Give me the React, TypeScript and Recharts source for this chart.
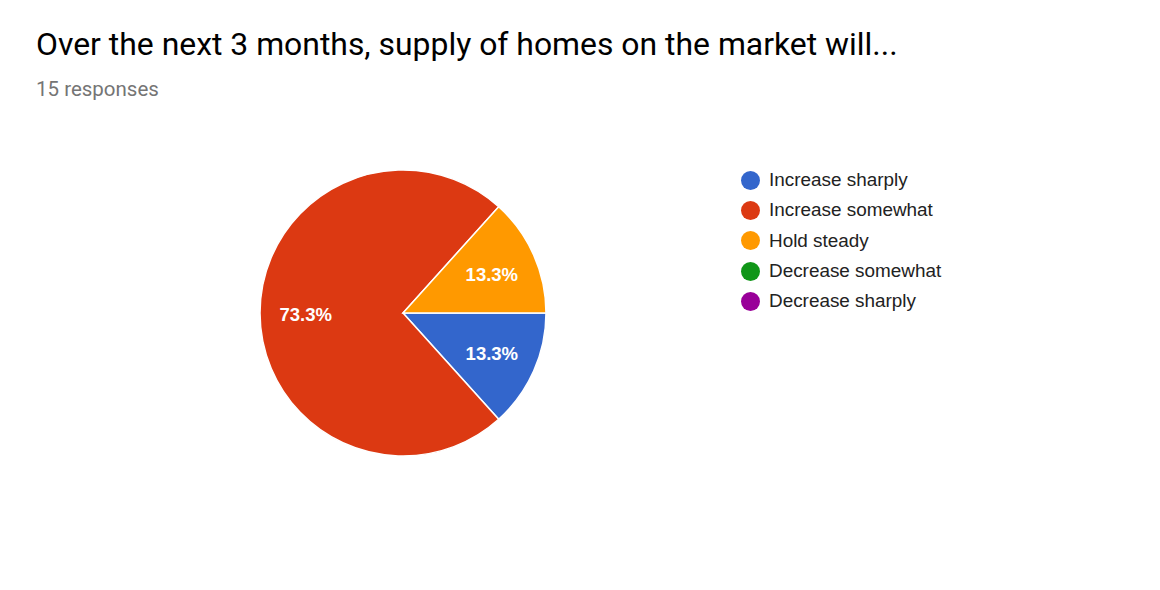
import React from "react";
import { PieChart, Pie, Cell } from "recharts";

const answers = [
  "Increase sharply",
  "Increase somewhat",
  "Hold steady",
  "Decrease somewhat",
  "Decrease sharply",
];
const counts = [2, 11, 2, 0, 0];
const colors = ["#3366cc", "#dc3912", "#ff9900", "#109618", "#990099"];

const data = answers.map((name, i) => ({ name, value: counts[i] }));

const RADIAN = Math.PI / 180;
const ARIAL = "'Liberation Sans', Arial, sans-serif";

const renderLabel = (props: any) => {
  const { cx, cy, midAngle, outerRadius, percent } = props;
  if (!percent) return null;
  const r = outerRadius * 0.68;
  const x = cx + r * Math.cos(-midAngle * RADIAN);
  const y = cy + r * Math.sin(-midAngle * RADIAN) + 1;
  return (
    <text
      x={x}
      y={y}
      fill="#ffffff"
      textAnchor="middle"
      dominantBaseline="central"
      fontFamily={ARIAL}
      fontWeight="bold"
      fontSize={18.5}
    >
      {(percent * 100).toFixed(1)}%
    </text>
  );
};

const App: React.FC = () => {
  return (
    <div
      style={{
        position: "absolute",
        left: 0,
        top: 0,
        width: 1160,
        height: 590,
        background: "#ffffff",
        overflow: "hidden",
      }}
    >
      {/* Title */}
      <div
        style={{
          position: "absolute",
          left: 36,
          top: 25,
          fontFamily: "Roboto, sans-serif",
          fontSize: 31.9,
          color: "#000000",
          whiteSpace: "nowrap",
        }}
      >
        Over the next 3 months, supply of homes on the market will...
      </div>
      <div
        style={{
          position: "absolute",
          left: 36,
          top: 77,
          fontFamily: "Roboto, sans-serif",
          fontSize: 20.5,
          color: "#757575",
        }}
      >
        15 responses
      </div>

      {/* Pie */}
      <div style={{ position: "absolute", left: 0, top: 0 }}>
        <PieChart
          width={1160}
          height={590}
          margin={{ top: 0, right: 0, bottom: 0, left: 0 }}
        >
          <Pie
            data={data}
            dataKey="value"
            nameKey="name"
            cx={403}
            cy={313}
            outerRadius={143}
            startAngle={0}
            endAngle={-360}
            stroke="#ffffff"
            strokeWidth={1.5}
            label={renderLabel}
            labelLine={false}
            isAnimationActive={false}
          >
            {data.map((d, i) => (
              <Cell key={d.name} fill={colors[i]} />
            ))}
          </Pie>
        </PieChart>
      </div>

      {/* Legend */}
      <div style={{ position: "absolute", left: 741, top: 165 }}>
        {answers.map((name, i) => (
          <div
            key={name}
            style={{ display: "flex", alignItems: "center", height: 30.3 }}
          >
            <span
              style={{
                width: 19,
                height: 19,
                borderRadius: "50%",
                background: colors[i],
                marginRight: 9,
                flexShrink: 0,
              }}
            />
            <span
              style={{
                fontFamily: ARIAL,
                fontSize: 18.9,
                color: "#222222",
                whiteSpace: "nowrap",
              }}
            >
              {name}
            </span>
          </div>
        ))}
      </div>
    </div>
  );
};

export default App;
